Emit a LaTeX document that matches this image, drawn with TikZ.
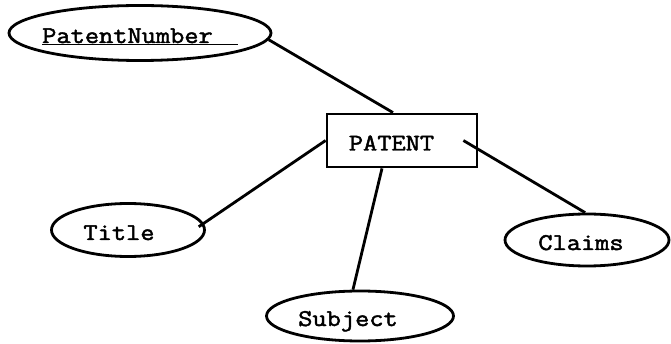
\documentclass[tikz,border=0pt]{standalone}
\usepackage{fontspec}
\newfontfamily\courfont[FakeBold=2, FakeStretch=1.15]{Latin Modern Mono}
\usetikzlibrary{shapes.geometric}
\begin{document}
\begin{tikzpicture}[x=1pt,y=-1pt,
  lbl/.style={font=\courfont\fontsize{24}{24}\selectfont, text height=20pt, text depth=0pt, inner sep=0pt},
  attr/.style={lbl, draw, ellipse, line width=2.8pt},
  ent/.style={lbl, draw, rectangle, line width=2.8pt},
  link/.style={line width=2.8pt}]
\useasboundingbox (0,0) rectangle (671,344);
\node[attr, minimum width=262pt, minimum height=55pt] (pn) at (140,33) {\makebox[120pt][c]{\underline{PatentNumber\hspace{25pt}}}};
\node[ent, minimum width=150pt, minimum height=53pt] (patent) at (402,140.5) {PATENT\hspace{21pt}\null};
\node[attr, minimum width=153pt, minimum height=53pt] (title) at (128,230) {Title\hspace{18pt}\null};
\node[attr, minimum width=164pt, minimum height=52pt] (claims) at (587,240) {Claims\hspace{12pt}\null};
\node[attr, minimum width=187pt, minimum height=50pt] (subject) at (360,316) {Subject\hspace{24pt}\null};
\draw[link] (pn.-3) -- ([xshift=-9pt]patent.north);
\draw[link, shorten >=-6pt] (patent.west) -- (title.5);
\draw[link] ([xshift=-15pt]patent.east) -- (claims.94);
\draw[link] ([xshift=-20pt]patent.south) -- (subject.105);
\end{tikzpicture}
\end{document}
